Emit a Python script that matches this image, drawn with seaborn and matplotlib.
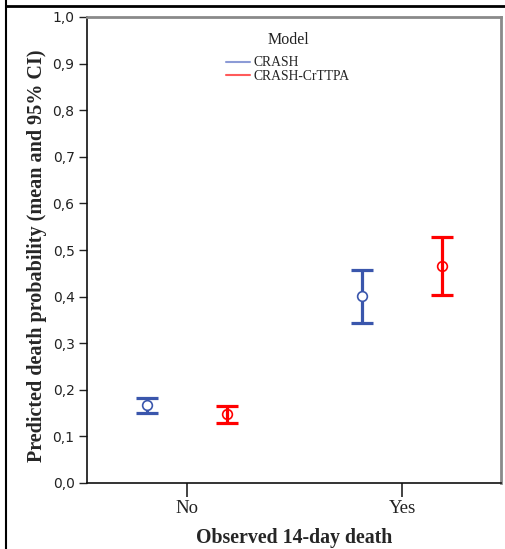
import matplotlib
matplotlib.use("Agg")
import matplotlib.pyplot as plt
from matplotlib.lines import Line2D
import seaborn as sns
import pandas as pd
import numpy as np

# ---- data ----
observed = ["No", "Yes"]
models = ["CRASH", "CRASH-CrTTPA"]
crash_mean = [0.167, 0.401]
crash_lo = [0.150, 0.343]
crash_hi = [0.182, 0.457]
crtt_mean = [0.148, 0.465]
crtt_lo = [0.129, 0.403]
crtt_hi = [0.165, 0.528]
yticks = [0.0, 0.1, 0.2, 0.3, 0.4, 0.5, 0.6, 0.7, 0.8, 0.9, 1.0]

df = pd.DataFrame({
    "Observed": observed * 2,
    "Model": [models[0]] * 2 + [models[1]] * 2,
    "mean": crash_mean + crtt_mean,
    "lo": crash_lo + crtt_lo,
    "hi": crash_hi + crtt_hi,
})

blue = "#3A56AC"
red = "#FF0000"
palette = {models[0]: blue, models[1]: red}
legend_cols = {models[0]: "#8C9BD6", models[1]: "#FF5A5A"}
face = {models[0]: "white", models[1]: "none"}

sns.set_theme(style="white")
plt.rcParams["font.family"] = ["Liberation Serif", "DejaVu Serif"]

fig = plt.figure(figsize=(5.06, 5.49), dpi=100)
ax = fig.add_axes([87 / 506, 1 - 483 / 549, (501 - 87) / 506, (483 - 17) / 549])

dodge = 0.372
# error bars (drawn below markers)
for h, m in enumerate(models):
    sub = df[df["Model"] == m]
    xs = np.arange(len(observed)) - dodge / 2 + dodge * h
    ax.errorbar(xs, sub["mean"], yerr=[sub["mean"] - sub["lo"], sub["hi"] - sub["mean"]],
                fmt="none", ecolor=palette[m], elinewidth=2.3, capsize=8, capthick=2.3,
                zorder=2)

n_before = len(ax.lines)
sns.pointplot(data=df, x="Observed", y="mean", hue="Model", order=observed,
              hue_order=models, palette=palette, dodge=dodge, linestyle="none",
              markers="o", errorbar=None, ax=ax, markersize=7, markeredgewidth=1.2)
new_lines = ax.lines[n_before:]
for ln, m in zip(new_lines, models):
    ln.set_zorder(3)
    ln.set_markeredgecolor(palette[m])
    ln.set_markerfacecolor(face[m])

if ax.get_legend() is not None:
    ax.get_legend().remove()

ax.set_xlim(-0.465, 1.46)
ax.set_ylim(0, 1.0)
ax.set_yticks(yticks)
ax.set_yticklabels([f"{v:.1f}".replace(".", ",") for v in yticks],
                   fontsize=10, family=["DejaVu Sans"], color="#222222")
ax.set_xticks(range(len(observed)))
ax.set_xticklabels(observed, fontsize=13.5, color="#222222")
ax.tick_params(axis="y", direction="out", length=6, width=1, pad=3, color="#222222", left=True)
ax.tick_params(axis="x", direction="out", length=10, width=1.2, pad=2, color="#222222", bottom=True)

ax.set_xlabel("Observed 14-day death", fontsize=14.3, fontweight="bold", labelpad=8)
ax.set_ylabel("Predicted death probability (mean and 95% CI)", fontsize=14.5,
              fontweight="bold")
ax.yaxis.set_label_coords((47 - 87) / 414, (483 - 256) / 466)

for s in ["left", "bottom"]:
    ax.spines[s].set_color("#111111")
    ax.spines[s].set_linewidth(1.2)
for s in ["top", "right"]:
    ax.spines[s].set_color("#8a8a8a")
    ax.spines[s].set_linewidth(2)
    ax.spines[s].set_visible(True)

handles = [Line2D([0], [0], color=legend_cols[m], lw=1.5) for m in models]
leg = ax.legend(handles, models, loc="upper center",
                bbox_to_anchor=(288 / 506, 1 - 56.5 / 549), bbox_transform=fig.transFigure,
                frameon=False, fontsize=9.8, handlelength=1.75,
                handletextpad=0.3, labelspacing=0.05, borderpad=0, borderaxespad=0)
fig.text(288 / 506, 1 - 40 / 549, "Model", ha="center", va="center", fontsize=11.5,
         color="#222222")

# outer frame lines
fig.add_artist(Line2D([6.5 / 506, 1.0], [1 - 5.5 / 549, 1 - 5.5 / 549],
                      transform=fig.transFigure, color="black", lw=2))
fig.add_artist(Line2D([6.5 / 506, 6.5 / 506], [0, 1.0],
                      transform=fig.transFigure, color="black", lw=1.5))

fig.savefig("out.png", dpi=100)
